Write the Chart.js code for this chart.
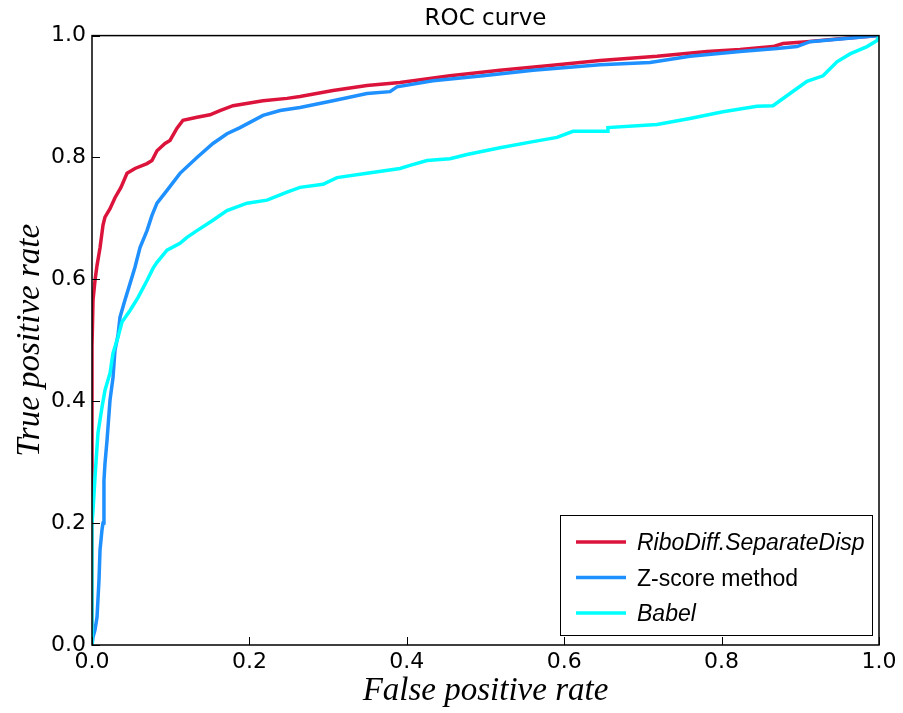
<!DOCTYPE html>
<html>
<head>
<meta charset="utf-8">
<script src="https://cdn.jsdelivr.net/npm/chart.js@4/dist/chart.umd.min.js"></script>
<style>
  html, body { margin: 0; padding: 0; background: #fff; }
  #rocChart { display: block; }
</style>
</head>
<body>
<canvas id="rocChart" width="903" height="713"></canvas>
<script>
// ROC points (false positive rate, true positive rate)
const riboFpr = [0, 0, 0.0013, 0.0038, 0.0064, 0.0102, 0.014, 0.0165, 0.0229, 0.0292, 0.0368, 0.0445, 0.0546, 0.0699, 0.0762, 0.0826, 0.0928, 0.0991, 0.108, 0.1156, 0.1334, 0.1499, 0.1626, 0.1792, 0.2173, 0.2478, 0.2643, 0.3062, 0.3494, 0.3914, 0.4549, 0.5184, 0.582, 0.6455, 0.7179, 0.7814, 0.8234, 0.8653, 0.878, 0.9085, 0.9504, 1];
const riboTpr = [0, 0.49, 0.566, 0.598, 0.623, 0.652, 0.689, 0.702, 0.716, 0.734, 0.751, 0.774, 0.782, 0.79, 0.795, 0.811, 0.823, 0.828, 0.848, 0.861, 0.866, 0.87, 0.877, 0.885, 0.893, 0.897, 0.9, 0.91, 0.918, 0.923, 0.934, 0.943, 0.951, 0.959, 0.966, 0.974, 0.977, 0.982, 0.987, 0.99, 0.995, 1];

const zscoreFpr = [0, 0.0013, 0.0038, 0.0064, 0.0089, 0.0102, 0.0127, 0.014, 0.0152, 0.0165, 0.0191, 0.0229, 0.0267, 0.0292, 0.033, 0.0356, 0.0419, 0.0483, 0.0546, 0.061, 0.0699, 0.0762, 0.0826, 0.0953, 0.1118, 0.1334, 0.1537, 0.1715, 0.1881, 0.2173, 0.2389, 0.2643, 0.3062, 0.3494, 0.3787, 0.3875, 0.4333, 0.4968, 0.5604, 0.6455, 0.709, 0.7598, 0.8234, 0.8704, 0.8958, 0.9123, 0.972, 1];
const zscoreTpr = [0, 0.013, 0.025, 0.046, 0.107, 0.156, 0.189, 0.2, 0.27, 0.298, 0.336, 0.402, 0.439, 0.484, 0.508, 0.538, 0.566, 0.593, 0.62, 0.652, 0.68, 0.705, 0.725, 0.746, 0.774, 0.8, 0.823, 0.839, 0.849, 0.869, 0.877, 0.882, 0.893, 0.905, 0.908, 0.916, 0.926, 0.934, 0.943, 0.952, 0.956, 0.966, 0.974, 0.979, 0.982, 0.99, 0.997, 1];

const babelFpr = [0, 0, 0.0013, 0.0038, 0.0076, 0.0127, 0.0165, 0.0229, 0.0267, 0.033, 0.0381, 0.0483, 0.0584, 0.0699, 0.0775, 0.0826, 0.0953, 0.1118, 0.1207, 0.1334, 0.1537, 0.1715, 0.197, 0.2224, 0.2478, 0.2643, 0.2935, 0.3113, 0.3494, 0.3914, 0.4041, 0.4257, 0.4549, 0.4765, 0.5184, 0.5604, 0.5909, 0.6112, 0.6544, 0.6556, 0.7179, 0.7598, 0.8018, 0.845, 0.8653, 0.8869, 0.9085, 0.9289, 0.9466, 0.9632, 0.9848, 0.9975, 1];
const babelTpr = [0, 0.2, 0.221, 0.275, 0.348, 0.39, 0.418, 0.446, 0.479, 0.505, 0.53, 0.549, 0.57, 0.598, 0.618, 0.628, 0.648, 0.659, 0.669, 0.68, 0.697, 0.713, 0.725, 0.73, 0.743, 0.751, 0.756, 0.767, 0.774, 0.782, 0.787, 0.795, 0.798, 0.805, 0.816, 0.826, 0.833, 0.843, 0.843, 0.849, 0.854, 0.864, 0.875, 0.884, 0.885, 0.905, 0.925, 0.934, 0.957, 0.97, 0.982, 0.992, 1];

const seriesLabels = ['RiboDiff.SeparateDisp', 'Z-score method', 'Babel'];
const axisTicks = [0, 0.2, 0.4, 0.6, 0.8, 1.0];

function toPoints(xs, ys) {
    return xs.map((x, i) => ({ x: x, y: ys[i] }));
}

// white page behind the chart
const whiteBg = {
    id: 'whiteBg',
    beforeDraw(chart) {
        const c = chart.ctx;
        c.save();
        c.fillStyle = '#fff';
        c.fillRect(0, 0, chart.width, chart.height);
        c.restore();
    }
};

// matplotlib style frame with ticks pointing inward
const frameAndTicks = {
    id: 'frameAndTicks',
    afterDatasetsDraw(chart) {
        const c = chart.ctx;
        const a = chart.chartArea;
        const xs = chart.scales.x, ys = chart.scales.y;
        c.save();
        c.strokeStyle = '#000';
        c.lineWidth = 1;
        axisTicks.forEach(v => {
            const px = Math.round(xs.getPixelForValue(v)) + 0.5;
            c.beginPath();
            c.moveTo(px, a.bottom);
            c.lineTo(px, a.bottom - 8);
            c.stroke();
            const py = Math.round(ys.getPixelForValue(v)) + 0.5;
            c.beginPath();
            c.moveTo(a.left, py);
            c.lineTo(a.left + 8, py);
            c.stroke();
        });
        c.lineWidth = 1.5;
        c.strokeRect(a.left, a.top, a.right - a.left, a.bottom - a.top);
        c.restore();
    }
};

// legend box in the lower right corner of the plot
const innerLegend = {
    id: 'innerLegend',
    afterDraw(chart) {
        const c = chart.ctx;
        const a = chart.chartArea;
        const boxRight = a.right - 7, boxBottom = a.bottom - 10;
        const boxW = 312, boxH = 120;
        const bx = boxRight - boxW, by = boxBottom - boxH;
        c.save();
        c.fillStyle = '#fff';
        c.fillRect(bx, by, boxW, boxH);
        c.strokeStyle = '#000';
        c.lineWidth = 1;
        c.strokeRect(bx + 0.5, by + 0.5, boxW, boxH);
        chart.data.datasets.forEach((ds, i) => {
            const ly = by + 27 + i * 35.5;
            c.strokeStyle = ds.borderColor;
            c.lineWidth = 3.5;
            c.beginPath();
            c.moveTo(bx + 16, ly);
            c.lineTo(bx + 66, ly);
            c.stroke();
            c.fillStyle = '#000';
            c.font = (ds.italicLabel ? 'italic ' : '') + '23px "Liberation Sans", Arial, sans-serif';
            c.textBaseline = 'middle';
            c.textAlign = 'left';
            c.fillText(ds.label, bx + 77, ly + 2);
        });
        c.restore();
    }
};

const ctx = document.getElementById('rocChart');

const chart = new Chart(ctx, {
    type: 'line',
    data: {
        datasets: [
            {
                label: seriesLabels[0],
                data: toPoints(riboFpr, riboTpr),
                borderColor: '#DC143C',
                italicLabel: true,
                order: 3
            },
            {
                label: seriesLabels[1],
                data: toPoints(zscoreFpr, zscoreTpr),
                borderColor: '#1E90FF',
                italicLabel: false,
                order: 2
            },
            {
                label: seriesLabels[2],
                data: toPoints(babelFpr, babelTpr),
                borderColor: '#00FFFF',
                italicLabel: true,
                order: 1
            }
        ]
    },
    options: {
        responsive: false,
        animation: false,
        devicePixelRatio: 1,
        layout: { padding: { left: 0, right: 24, top: 0, bottom: 0 } },
        elements: {
            line: { borderWidth: 3.5, tension: 0, fill: false },
            point: { radius: 0, hoverRadius: 0 }
        },
        scales: {
            x: {
                type: 'linear',
                min: 0,
                max: 1,
                afterFit(scale) { scale.height = 68; },
                afterBuildTicks(scale) { scale.ticks = axisTicks.map(v => ({ value: v })); },
                grid: { display: false, drawTicks: false },
                border: { display: false },
                ticks: {
                    padding: 4,
                    color: '#000',
                    font: { family: '"DejaVu Sans", sans-serif', size: 22 },
                    callback: v => v.toFixed(1)
                },
                title: {
                    display: true,
                    text: 'False positive rate',
                    color: '#000',
                    font: { family: '"Liberation Serif", "Times New Roman", serif', size: 33, style: 'italic' },
                    padding: { top: 0, bottom: 2 }
                }
            },
            y: {
                type: 'linear',
                min: 0,
                max: 1,
                afterFit(scale) { scale.width = 92; },
                afterBuildTicks(scale) { scale.ticks = axisTicks.map(v => ({ value: v })); },
                grid: { display: false, drawTicks: false },
                border: { display: false },
                ticks: {
                    padding: 6,
                    color: '#000',
                    font: { family: '"DejaVu Sans", sans-serif', size: 22 },
                    callback: v => v.toFixed(1)
                },
                title: {
                    display: true,
                    text: 'True positive rate',
                    color: '#000',
                    font: { family: '"Liberation Serif", "Times New Roman", serif', size: 33, style: 'italic' },
                    padding: { top: 11, bottom: 0 }
                }
            }
        },
        plugins: {
            legend: { display: false },
            tooltip: { enabled: false },
            title: {
                display: true,
                text: 'ROC curve',
                fullSize: false,
                color: '#000',
                font: { family: '"DejaVu Sans", sans-serif', size: 23, weight: 'normal' },
                padding: { top: 5, bottom: 3 }
            }
        }
    },
    plugins: [whiteBg, frameAndTicks, innerLegend]
});
</script>
</body>
</html>
